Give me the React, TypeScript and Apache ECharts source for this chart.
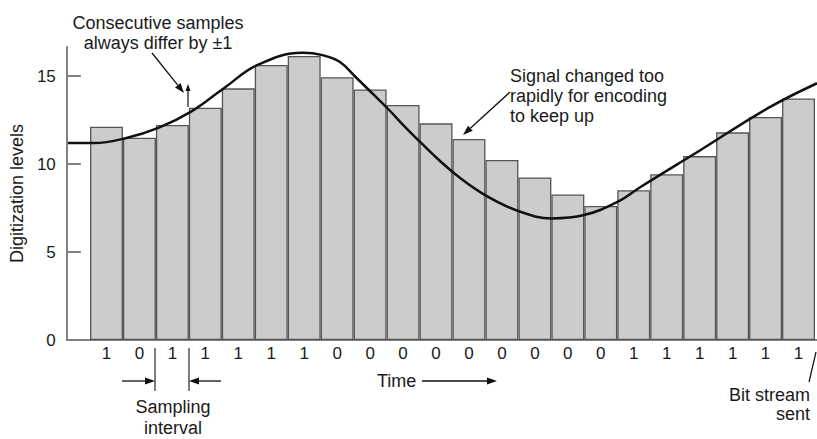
import React, { useEffect, useRef } from "react";
import * as echarts from "echarts";

const FONT = "'Liberation Sans', Arial, Helvetica, sans-serif";

// bit stream sent (one per sample)
const bits = ["1", "0", "1", "1", "1", "1", "1", "0", "0", "0", "0", "0", "0", "0", "0", "0", "1", "1", "1", "1", "1", "1"];
// digitization level of each sample
const levels = [12.12, 11.49, 12.22, 13.2, 14.3, 15.63, 16.14, 14.93, 14.24, 13.35, 12.31, 11.42, 10.23, 9.24, 8.27, 7.62, 8.51, 9.42, 10.45, 11.8, 12.67, 13.73];
// analog signal (time in sample units, level)
const curveX = [-0.82, 0, 1.0, 1.97, 2.97, 3.98, 5.0, 6.37, 6.98, 7.5, 7.98, 8.5, 9.01, 9.5, 10.02, 10.53, 11.14, 11.99, 12.99, 13.96, 14.96, 15.99, 16.69, 18.51, 20.55, 22.06];
const curveY = [11.19, 11.19, 11.48, 12.05, 12.98, 14.32, 15.63, 16.32, 16.19, 15.81, 14.96, 14.01, 13.07, 12.1, 11.14, 10.23, 9.26, 8.18, 7.3, 6.91, 7.1, 7.86, 8.71, 10.8, 13.16, 14.59];
const yTicks = [0, 5, 10, 15];

function arrow(x1: number, y1: number, x2: number, y2: number, color = "#111", lw = 1.3) {
  const dx = x2 - x1, dy = y2 - y1;
  const len = Math.sqrt(dx * dx + dy * dy);
  const ux = dx / len, uy = dy / len;
  const hl = 10, hw = 3.5;
  const bx = x2 - ux * hl, by = y2 - uy * hl;
  return [
    { type: "line", shape: { x1, y1, x2: bx, y2: by }, style: { stroke: color, lineWidth: lw }, z: 100 },
    {
      type: "polygon",
      shape: { points: [[x2, y2], [bx - uy * hw, by + ux * hw], [bx + uy * hw, by - ux * hw]] },
      style: { fill: color },
      z: 100,
    },
  ];
}

function txt(x: number, y: number, text: string, align: string, lineHeight = 20, va = "top") {
  return {
    type: "text",
    x,
    y,
    z: 100,
    style: {
      text,
      fontSize: 18,
      fontFamily: FONT,
      fill: "#1a1a1a",
      align,
      textAlign: align,
      verticalAlign: va,
      textVerticalAlign: va,
      lineHeight,
    },
  };
}

export default function App() {
  const ref = useRef<HTMLDivElement>(null);
  useEffect(() => {
    if (!ref.current) return;
    const chart = echarts.init(ref.current, undefined, { renderer: "svg" });
    const curve = curveX.map((x, i) => [x, curveY[i]]);
    const axisGrey = "#808080";
    const option = {
      animation: false,
      textStyle: { fontFamily: FONT },
      grid: [
        { left: 63, right: 0, top: 47, bottom: 99 },
        { left: 90, right: 2, top: 47, bottom: 99 },
      ],
      xAxis: [
        {
          type: "value",
          gridIndex: 0,
          min: -0.82,
          max: 22.06,
          axisLine: { show: true, onZero: false, lineStyle: { color: axisGrey, width: 2 } },
          axisTick: { show: false },
          axisLabel: { show: false },
          splitLine: { show: false },
        },
        {
          type: "category",
          gridIndex: 1,
          data: bits,
          boundaryGap: true,
          axisLine: { show: false },
          axisTick: { show: false },
          axisLabel: { fontSize: 17, color: "#1a1a1a", margin: 5, fontFamily: FONT },
        },
      ],
      yAxis: [
        {
          type: "value",
          gridIndex: 0,
          min: 0,
          max: 16.65,
          interval: 5,
          name: "Digitization levels",
          nameLocation: "middle",
          nameGap: 37,
          nameTextStyle: { fontSize: 18, color: "#1a1a1a", fontFamily: FONT },
          axisLine: { show: true, onZero: false, lineStyle: { color: axisGrey, width: 2 } },
          axisTick: { show: true, inside: true, length: 14, lineStyle: { color: axisGrey, width: 2 }, customValues: yTicks },
          axisLabel: { fontSize: 17, color: "#1a1a1a", margin: 11, customValues: yTicks, fontFamily: FONT },
          splitLine: { show: false },
          z: 10,
        },
        { type: "value", gridIndex: 1, min: 0, max: 16.65, show: false },
      ],
      series: [
        {
          type: "bar",
          xAxisIndex: 1,
          yAxisIndex: 1,
          data: levels,
          barCategoryGap: "0%",
          itemStyle: { color: "#cccccc", borderColor: "#555555", borderWidth: 1.3 },
          z: 2,
        },
        {
          type: "line",
          xAxisIndex: 0,
          yAxisIndex: 0,
          data: curve,
          smooth: 0.4,
          showSymbol: false,
          clip: false,
          lineStyle: { color: "#111111", width: 2.5 },
          z: 5,
        },
      ],
      graphic: [
        txt(158, 13, "Consecutive samples\nalways differ by \u00b11", "center"),
        ...arrow(152, 53, 184, 93),
        { type: "line", shape: { x1: 188, y1: 86, x2: 188, y2: 107 }, style: { stroke: "#111", lineWidth: 1.2 }, z: 100 },
        { type: "polygon", shape: { points: [[188, 84], [185.5, 91], [190.5, 91]] }, style: { fill: "#111" }, z: 100 },
        txt(510, 66, "Signal changed too\nrapidly for encoding\nto keep up", "left"),
        ...arrow(510, 92, 463, 135),
        { type: "line", shape: { x1: 155, y1: 348, x2: 155, y2: 391 }, style: { stroke: "#555", lineWidth: 1.5 }, z: 100 },
        { type: "line", shape: { x1: 189, y1: 348, x2: 189, y2: 391 }, style: { stroke: "#555", lineWidth: 1.5 }, z: 100 },
        ...arrow(122, 381, 155, 381),
        ...arrow(221, 381, 189, 381),
        txt(173, 396.5, "Sampling\ninterval", "center", 21),
        txt(377, 381, "Time", "left", 20, "middle"),
        ...arrow(422, 381, 497, 381),
        { type: "line", shape: { x1: 816, y1: 352, x2: 809, y2: 382 }, style: { stroke: "#111", lineWidth: 1.2 }, z: 100 },
        txt(810, 385.5, "Bit stream\nsent", "right", 19),
      ],
    };
    chart.setOption(option as any);
    return () => chart.dispose();
  }, []);
  return <div ref={ref} style={{ position: "absolute", left: 0, top: 0, width: 817, height: 439 }} />;
}
